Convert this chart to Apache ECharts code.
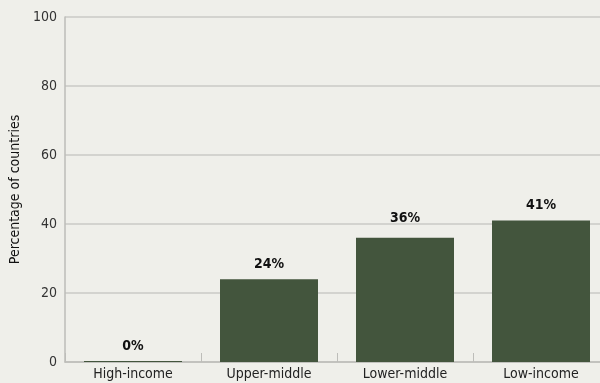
<!DOCTYPE html>
<html>
<head>
<meta charset="utf-8">
<script src="https://cdn.jsdelivr.net/npm/echarts@6/dist/echarts.min.js"></script>
<style>
  html, body { margin: 0; padding: 0; background: #efefea; }
  #chart { width: 600px; height: 383px; }
</style>
</head>
<body>
<div id="chart"></div>
<script>
// Share of countries in each income group
const categories = ['High-income', 'Upper-middle', 'Lower-middle', 'Low-income'];
const shares = [0, 24, 36, 41];
const yTicks = [0, 20, 40, 60, 80, 100];

const FONT = '"Liberation Sans Narrow", "DejaVu Sans Condensed", "Roboto Condensed", sans-serif';
const barColor = '#43553d';

const chart = echarts.init(document.getElementById('chart'), null, { renderer: 'canvas' });

chart.setOption({
  backgroundColor: '#efefea',
  animation: false,
  grid: { left: 65, top: 17, bottom: 21, width: 544, containLabel: false, outerBoundsMode: 'none' },
  xAxis: {
    type: 'category',
    data: categories,
    axisLine: { show: true, lineStyle: { color: '#bdbdb9', width: 1.5 } },
    axisTick: { show: true, inside: true, length: 9, lineStyle: { color: '#bdbdb9', width: 1 } },
    axisLabel: { color: '#222', fontFamily: FONT, fontSize: 14, margin: 5 }
  },
  yAxis: {
    type: 'value',
    min: yTicks[0],
    max: yTicks[yTicks.length - 1],
    interval: 20,
    name: 'Percentage of countries',
    nameLocation: 'middle',
    nameGap: 42,
    nameTextStyle: { color: '#111', fontFamily: FONT, fontSize: 14 },
    axisLine: { show: true, lineStyle: { color: '#bdbdb9', width: 1.5 } },
    axisTick: { show: false },
    axisLabel: { color: '#333', fontFamily: FONT, fontSize: 14, margin: 8 },
    splitLine: { show: true, lineStyle: { color: '#cacac6', width: 1.5 } }
  },
  series: [{
    type: 'bar',
    data: shares.map((v, i) => i === 2
      ? { value: v, label: { offset: [0, -4] } }
      : v),
    barWidth: 98,
    barMinHeight: 1,
    itemStyle: { color: barColor },
    label: {
      show: true,
      position: 'top',
      distance: 8,
      formatter: p => p.value + '%',
      color: '#111',
      fontFamily: FONT,
      fontSize: 14,
      fontWeight: 'bold'
    }
  }]
});
</script>
</body>
</html>
